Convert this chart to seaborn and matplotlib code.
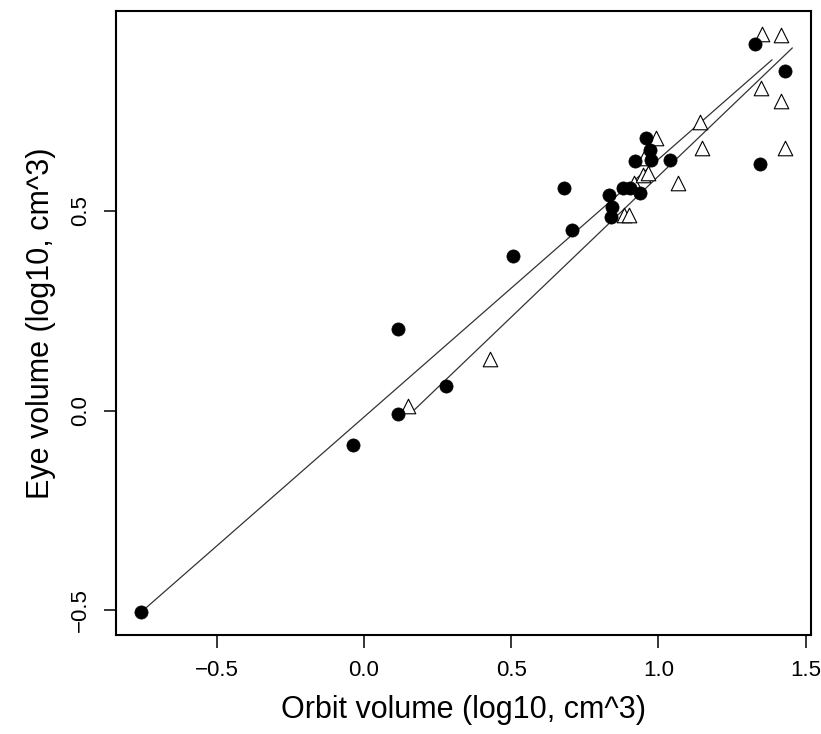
import numpy as np
import pandas as pd
import matplotlib
matplotlib.use("Agg")
import matplotlib.pyplot as plt
import seaborn as sns

# filled circles (group 1)
circle_orbit = [-0.755, -0.037, 0.116, 0.116, 0.280, 0.506, 0.680, 0.707, 0.832, 0.843,
                0.840, 0.879, 0.904, 0.938, 0.922, 0.958, 0.972, 0.975, 1.038, 1.328,
                1.430, 1.345]
circle_eye = [-0.504, -0.086, -0.008, 0.204, 0.062, 0.388, 0.556, 0.452, 0.539, 0.510,
              0.485, 0.556, 0.556, 0.545, 0.625, 0.683, 0.652, 0.627, 0.628, 0.918,
              0.850, 0.618]

# open triangles (group 2)
tri_orbit = [0.150, 0.429, 0.885, 0.902, 0.919, 0.947, 0.964, 0.952, 0.992, 1.068,
             1.141, 1.148, 1.348, 1.352, 1.417, 1.417, 1.430]
tri_eye = [0.012, 0.128, 0.489, 0.489, 0.570, 0.589, 0.595, 0.631, 0.681, 0.569,
           0.722, 0.658, 0.808, 0.943, 0.941, 0.775, 0.656]

# fitted lines: circles, triangles
fit_intercept = [-0.0167, -0.1195]
fit_slope = [0.6455, 0.706]
fit_xmin = [-0.755, 0.173]
fit_xmax = [1.386, 1.455]

x_ticks = [-0.5, 0.0, 0.5, 1.0, 1.5]
y_ticks = [-0.5, 0.0, 0.5]

sns.set_style("ticks")
plt.rcParams["font.family"] = ["Liberation Sans", "DejaVu Sans"]
plt.rcParams["text.color"] = "black"
plt.rcParams["axes.labelcolor"] = "black"
plt.rcParams["xtick.color"] = "black"
plt.rcParams["ytick.color"] = "black"

circles = pd.DataFrame({"orbit": circle_orbit, "eye": circle_eye})
tris = pd.DataFrame({"orbit": tri_orbit, "eye": tri_eye})

fig = plt.figure(figsize=(8.21, 7.34), dpi=100)
ax = fig.add_axes([0.1409, 0.1349, 0.8466, 0.8505])

for b, m, x0, x1 in zip(fit_intercept, fit_slope, fit_xmin, fit_xmax):
    xs = np.array([x0, x1])
    sns.lineplot(x=xs, y=b + m * xs, ax=ax, color="#333333", linewidth=0.9, zorder=1)

sns.scatterplot(data=circles, x="orbit", y="eye", ax=ax, marker="o", s=90,
                color="black", edgecolor="black", linewidth=0.5, zorder=3)
sns.scatterplot(data=tris, x="orbit", y="eye", ax=ax, marker="^", s=110,
                facecolor="white", edgecolor="black", linewidth=0.8, zorder=2)

# R-style 4% axis padding
allx = np.array(circle_orbit + tri_orbit)
ally = np.array(circle_eye + tri_eye)
px = 0.04 * (allx.max() - allx.min())
py = 0.04 * (ally.max() - ally.min())
ax.set_xlim(allx.min() - px, allx.max() + px)
ax.set_ylim(ally.min() - py, ally.max() + py)

ax.set_xticks(x_ticks)
ax.set_xticklabels([f"{v:.1f}".replace("-", "\u2212") for v in x_ticks])
ax.set_yticks(y_ticks)
ax.set_yticklabels([f"{v:.1f}".replace("-", "\u2212") for v in y_ticks],
                   rotation=90, va="center")

for sp in ax.spines.values():
    sp.set_visible(True)
    sp.set_linewidth(1.5)
    sp.set_color("black")
ax.tick_params(axis="both", length=9, width=1.1, color="black",
               labelcolor="black", labelsize=16, pad=9)

ax.set_xlabel("Orbit volume (log10, cm^3)", fontsize=22, labelpad=10, color="black")
ax.set_ylabel("Eye volume (log10, cm^3)", fontsize=22, labelpad=10, color="black")

fig.savefig("out.png", dpi=100)
